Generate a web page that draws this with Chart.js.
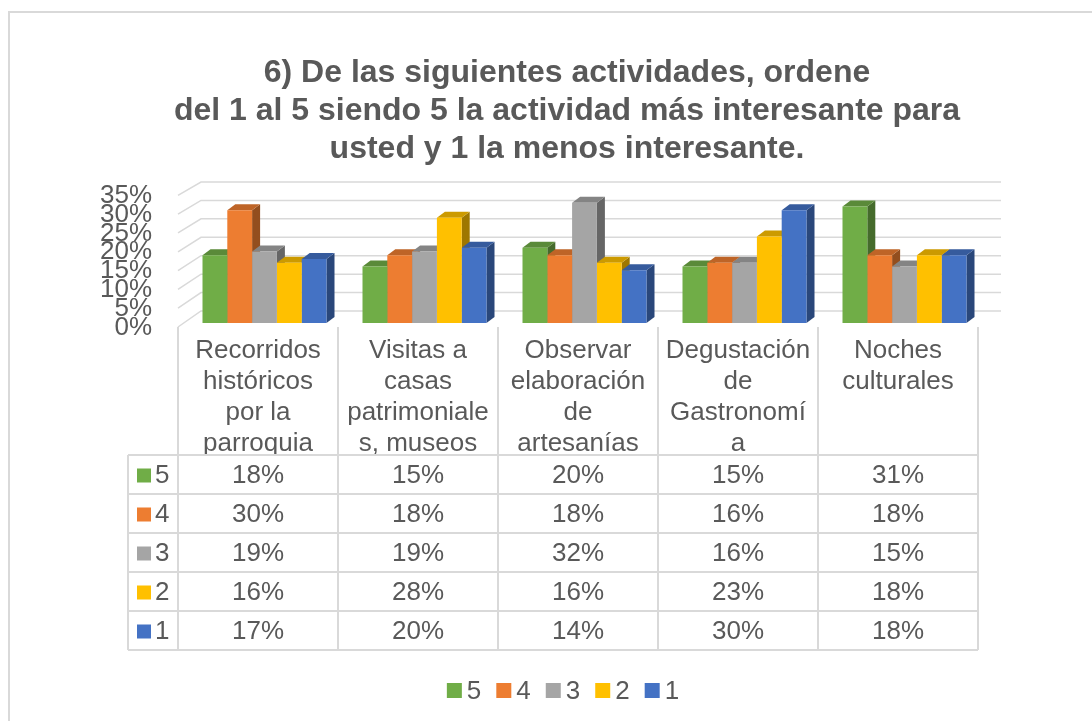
<!DOCTYPE html>
<html>
<head>
<meta charset="utf-8">
<script src="https://cdn.jsdelivr.net/npm/chart.js@4/dist/chart.umd.min.js"></script>
<style>
  html, body { margin: 0; padding: 0; background: #fff; overflow: hidden; }
  #wrap {
    position: absolute; left: 8px; top: 11px;
    border-left: 2px solid #d9d9d9; border-top: 2px solid #d9d9d9;
  }
  canvas { display: block; }
</style>
</head>
<body>
<div id="wrap"><canvas id="chart" width="1114" height="720"></canvas></div>
<script>
const titleLines = [
  '6) De las siguientes actividades, ordene',
  'del 1 al 5 siendo 5 la actividad más interesante para',
  'usted y 1 la menos interesante.'
];
const categories = [
  ['Recorridos', 'históricos', 'por la', 'parroquia'],
  ['Visitas a', 'casas', 'patrimoniale', 's, museos'],
  ['Observar', 'elaboración', 'de', 'artesanías'],
  ['Degustación', 'de', 'Gastronomí', 'a'],
  ['Noches', 'culturales']
];
const seriesNames = ['5', '4', '3', '2', '1'];
const seriesColors = ['#70AD47', '#ED7D31', '#A5A5A5', '#FFC000', '#4472C4'];
const values5 = [18, 15, 20, 15, 31];
const values4 = [30, 18, 18, 16, 18];
const values3 = [19, 19, 32, 16, 15];
const values2 = [16, 28, 16, 23, 18];
const values1 = [17, 20, 14, 30, 18];
const yMax = 35;
const yStep = 5;

const textColor = '#595959';
const lineColor = '#d9d9d9';
const fontFamily = 'Arial, "Liberation Sans", sans-serif';

// 3d look: bars sit a bit right of the table columns, depth goes up-right
const SHIFT = 6.5;
const DX = 8, DY = -6;
const WALL_DX = 23;

function shade(hex, f) {
  const n = parseInt(hex.slice(1), 16);
  const r = Math.round(((n >> 16) & 255) * f);
  const g = Math.round(((n >> 8) & 255) * f);
  const b = Math.round((n & 255) * f);
  return 'rgb(' + r + ',' + g + ',' + b + ')';
}

const box3d = {
  id: 'box3d',
  beforeDatasetsDraw(chart) {
    const { ctx, scales: { x, y } } = chart;
    const base = y.getPixelForValue(0);
    const colL = x.left - SHIFT, colR = x.right - SHIFT;

    ctx.save();
    // back wall + side wall grid
    ctx.strokeStyle = lineColor;
    ctx.lineWidth = 1.5;
    y.ticks.forEach(t => {
      const py = y.getPixelForValue(t.value);
      const back = py - 12 + 0.02 * (base - py);
      const front = py + 4;
      ctx.beginPath();
      ctx.moveTo(colL, front);
      ctx.lineTo(colL + WALL_DX, back);
      ctx.lineTo(colR + WALL_DX, back);
      ctx.stroke();
    });

    // tops and sides of the bars, fronts are drawn by chart.js on top
    const n = chart.data.datasets.length;
    chart.data.labels.forEach((_, j) => {
      for (let i = 0; i < n; i++) {
        const bar = chart.getDatasetMeta(i).data[j];
        const p = bar.getProps(['x', 'y', 'base', 'width'], true);
        const L = p.x - p.width / 2, R = p.x + p.width / 2;
        const col = seriesColors[i];
        ctx.fillStyle = shade(col, 0.62);
        ctx.beginPath();
        ctx.moveTo(R, p.y);
        ctx.lineTo(R + DX, p.y + DY);
        ctx.lineTo(R + DX, p.base + DY);
        ctx.lineTo(R, p.base);
        ctx.closePath();
        ctx.fill();
        ctx.fillStyle = shade(col, 0.8);
        ctx.beginPath();
        ctx.moveTo(L, p.y);
        ctx.lineTo(L + DX, p.y + DY);
        ctx.lineTo(R + DX, p.y + DY);
        ctx.lineTo(R, p.y);
        ctx.closePath();
        ctx.fill();
      }
    });
    ctx.restore();
  },
  afterDraw(chart) {
    const { ctx, scales: { x, y } } = chart;
    const base = y.getPixelForValue(0);
    const colL = x.left - SHIFT;
    const colW = x.width / chart.data.labels.length;
    const keyL = colL - 50;
    const rowH = 39;
    const top = base + 132;
    const nRows = chart.data.datasets.length;
    const bottom = top + nRows * rowH;

    ctx.save();
    ctx.strokeStyle = lineColor;
    ctx.lineWidth = 2;
    ctx.beginPath();
    for (let c = 0; c <= chart.data.labels.length; c++) {
      const cx = colL + c * colW;
      ctx.moveTo(cx, base + 4);
      ctx.lineTo(cx, bottom);
    }
    ctx.moveTo(keyL, top);
    ctx.lineTo(keyL, bottom);
    for (let r = 0; r <= nRows; r++) {
      ctx.moveTo(keyL, top + r * rowH);
      ctx.lineTo(colL + chart.data.labels.length * colW, top + r * rowH);
    }
    ctx.stroke();

    ctx.font = '26px ' + fontFamily;
    ctx.textBaseline = 'middle';
    chart.data.datasets.forEach((ds, r) => {
      const cy = top + r * rowH + rowH / 2 + 1;
      ctx.fillStyle = ds.backgroundColor;
      ctx.fillRect(keyL + 9, cy - 7, 14, 14);
      ctx.fillStyle = textColor;
      ctx.textAlign = 'left';
      ctx.fillText(ds.label, keyL + 27, cy);
      ctx.textAlign = 'center';
      ds.data.forEach((v, j) => {
        ctx.fillText(v + '%', x.getPixelForTick(j) - SHIFT, cy);
      });
    });

    // legend under the table
    const box = 15, gap = 5, itemGap = 15;
    const widths = chart.data.datasets.map(ds => box + gap + ctx.measureText(ds.label).width);
    const total = widths.reduce((a, b) => a + b, 0) + itemGap * (widths.length - 1);
    let lx = chart.width / 2 - total / 2 - 4;
    const ly = bottom + 40.5;
    ctx.textAlign = 'left';
    chart.data.datasets.forEach((ds, i) => {
      ctx.fillStyle = ds.backgroundColor;
      ctx.fillRect(lx, ly - box / 2, box, box);
      ctx.fillStyle = textColor;
      ctx.fillText(ds.label, lx + box + gap, ly + 1);
      lx += widths[i] + itemGap;
    });
    ctx.restore();
  }
};

const datasets = [values5, values4, values3, values2, values1].map((vals, i) => ({
  label: seriesNames[i],
  data: vals,
  backgroundColor: seriesColors[i],
  borderWidth: 0
}));

new Chart(document.getElementById('chart'), {
  type: 'bar',
  data: { labels: categories, datasets: datasets },
  options: {
    responsive: false,
    animation: false,
    layout: { padding: { top: 0, left: 0, right: 0, bottom: 62 } },
    datasets: { bar: { categoryPercentage: 0.775, barPercentage: 1 } },
    plugins: {
      title: {
        display: true,
        text: titleLines,
        color: textColor,
        font: { family: fontFamily, size: 32, weight: 'bold', lineHeight: 1.18 },
        padding: { top: 41.4, bottom: 23.7 }
      },
      legend: { display: false },
      tooltip: { enabled: false }
    },
    scales: {
      x: {
        grid: { display: false },
        border: { display: false },
        ticks: {
          color: textColor,
          font: { family: fontFamily, size: 26, lineHeight: 1.2 },
          padding: 4,
          labelOffset: -SHIFT,
          maxRotation: 0,
          autoSkip: false
        },
        afterFit: s => { s.height = 348; }
      },
      y: {
        min: 0,
        max: yMax,
        grid: { display: false },
        border: { display: false },
        ticks: {
          stepSize: yStep,
          autoSkip: false,
          padding: 24.5,
          labelOffset: 4.5,
          color: textColor,
          font: { family: fontFamily, size: 26 },
          callback: v => v + '%'
        },
        afterFit: s => { s.width = 174.5; }
      },
      yRight: {
        type: 'linear',
        position: 'right',
        grid: { display: false },
        border: { display: false },
        ticks: { display: false },
        afterFit: s => { s.width = 139.5; }
      }
    }
  },
  plugins: [box3d]
});
</script>
</body>
</html>
